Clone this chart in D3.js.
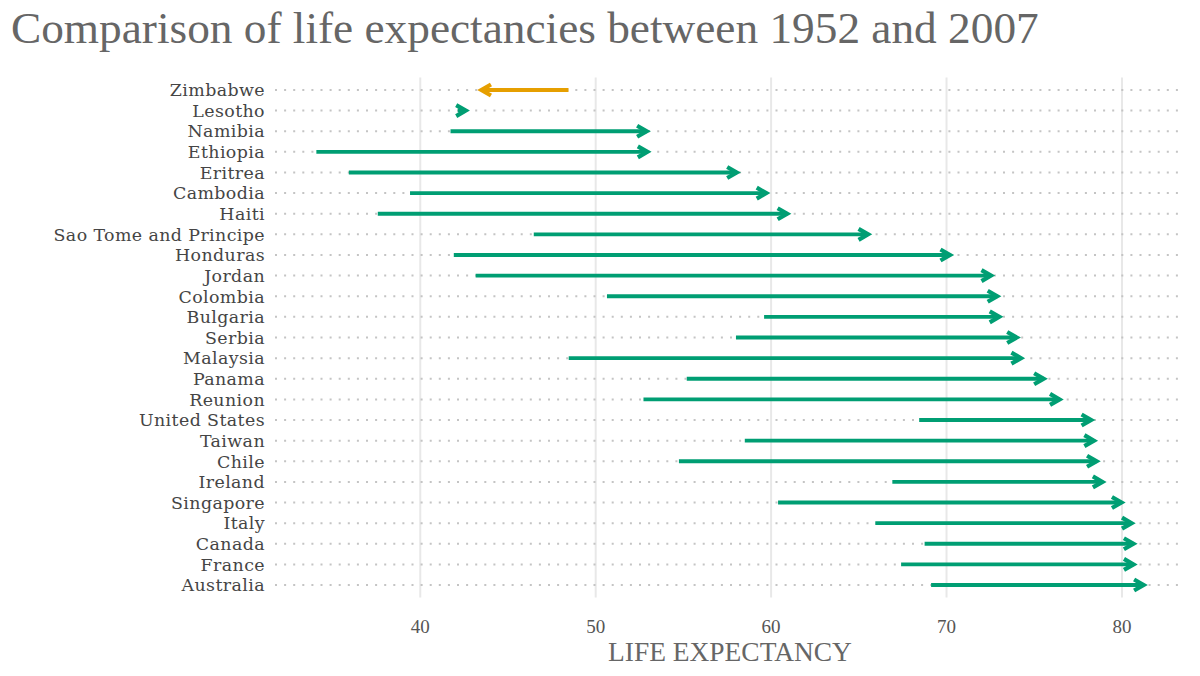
<!DOCTYPE html>
<html>
<head>
<meta charset="utf-8">
<script src="https://cdn.jsdelivr.net/npm/d3@7"></script>
<style>
  html, body { margin: 0; padding: 0; background: #fff; }
  svg { display: block; }
</style>
</head>
<body>
<svg id="chart" width="1200" height="676"></svg>
<script>
const countries = ["Zimbabwe","Lesotho","Namibia","Ethiopia","Eritrea","Cambodia","Haiti",
  "Sao Tome and Principe","Honduras","Jordan","Colombia","Bulgaria","Serbia","Malaysia",
  "Panama","Reunion","United States","Taiwan","Chile","Ireland","Singapore","Italy",
  "Canada","France","Australia"];
const life1952 = [48.451,42.138,41.725,34.078,35.928,39.417,37.579,46.471,41.912,43.158,
  50.643,59.600,57.996,48.463,55.191,52.724,68.440,58.500,54.745,66.910,60.396,65.940,
  68.750,67.410,69.120];
const life2007 = [43.487,42.592,52.906,52.947,58.040,59.723,60.916,65.528,70.198,72.535,
  72.889,73.005,74.002,74.241,75.537,76.442,78.242,78.400,78.553,78.885,79.972,80.546,
  80.653,80.657,81.235];
const xTicks = [40, 50, 60, 70, 80];
const titleText = "Comparison of life expectancies between 1952 and 2007";
const xTitle = "LIFE EXPECTANCY";

const data = countries.map((c, i) => ({country: c, start: life1952[i], end: life2007[i]}));

const svg = d3.select("#chart");
const panel = {left: 275, right: 1185, top: 77.6, bottom: 597.4};

const allVals = life1952.concat(life2007);
const [mn, mx] = d3.extent(allVals);
const pad = (mx - mn) * 0.05;
const x = d3.scaleLinear().domain([mn - pad, mx + pad]).range([panel.left, panel.right]);
const y = d3.scalePoint().domain(countries).range([panel.top, panel.bottom]).padding(0.6);

function fitText(sel, target) {
  const w = sel.node().getComputedTextLength();
  const fs = parseFloat(sel.attr("font-size"));
  sel.attr("font-size", fs * target / w);
}

// vertical grid lines
svg.append("g").selectAll("line").data(xTicks).join("line")
  .attr("x1", d => x(d)).attr("x2", d => x(d))
  .attr("y1", panel.top).attr("y2", panel.bottom)
  .attr("stroke", "#e8e8e8").attr("stroke-width", 2);

// dotted horizontal lines
svg.append("g").selectAll("line").data(countries).join("line")
  .attr("x1", panel.left).attr("x2", panel.right)
  .attr("y1", d => y(d)).attr("y2", d => y(d))
  .attr("stroke", "#c4c4c4").attr("stroke-width", 2)
  .attr("stroke-dasharray", "2 7.1");

// arrows
const col = d => d.end < d.start ? "#E69F00" : "#009E73";
const g = svg.append("g");
g.selectAll("line.seg").data(data).join("line").attr("class", "seg")
  .attr("x1", d => x(d.start)).attr("x2", d => x(d.end))
  .attr("y1", d => y(d.country)).attr("y2", d => y(d.country))
  .attr("stroke", col).attr("stroke-width", 3.8);
const L = 11, ang = Math.PI / 6;
g.selectAll("path.head").data(data).join("path").attr("class", "head")
  .attr("d", d => {
    const tx = x(d.end), ty = y(d.country);
    const dir = d.end >= d.start ? 1 : -1;
    const bx = tx - dir * L * Math.cos(ang), dy = L * Math.sin(ang);
    return `M${bx},${ty - dy}L${tx},${ty}L${bx},${ty + dy}`;
  })
  .attr("fill", "none").attr("stroke", col).attr("stroke-width", 4.2)
  .attr("stroke-linejoin", "miter").attr("stroke-miterlimit", 10);

// y labels
const yl = svg.append("g").selectAll("text").data(countries).join("text")
  .attr("x", 265).attr("y", d => y(d)).attr("dy", "0.36em")
  .attr("text-anchor", "end")
  .attr("font-family", "'DejaVu Serif', serif").attr("font-size", 17.4)
  .attr("fill", "#454545").text(d => d);
{
  const n = yl.filter(d => d === "Sao Tome and Principe");
  const w = n.node().getComputedTextLength();
  const ls = Math.min(0.4, Math.max(0, (237 - w) / 20));
  yl.attr("letter-spacing", ls);
}

// x tick labels
svg.append("g").selectAll("text").data(xTicks).join("text")
  .attr("x", d => x(d)).attr("y", 633)
  .attr("text-anchor", "middle")
  .attr("font-family", "'Liberation Serif', serif").attr("font-size", 19)
  .attr("fill", "#555").text(d => d);

// axis title
const at = svg.append("text")
  .attr("x", (panel.left + panel.right) / 2).attr("y", 661)
  .attr("text-anchor", "middle")
  .attr("font-family", "'Liberation Serif', serif").attr("font-size", 24)
  .attr("fill", "#666").text(xTitle);
fitText(at, 244);

// title
const tt = svg.append("text")
  .attr("x", 11).attr("y", 43)
  .attr("font-family", "'Liberation Serif', serif").attr("font-size", 40)
  .attr("fill", "#666").text(titleText);
fitText(tt, 1028);
</script>
</body>
</html>
